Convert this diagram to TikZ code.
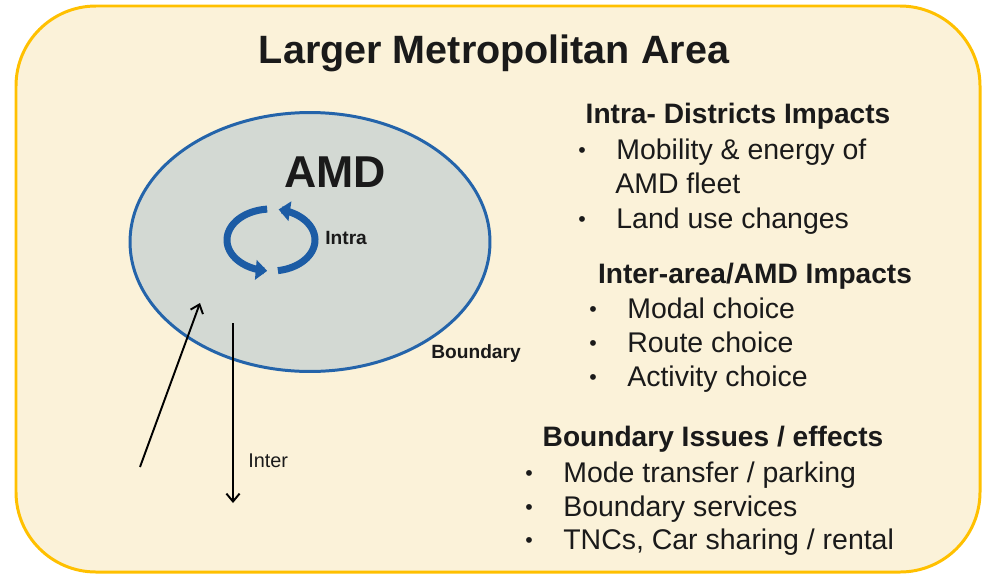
\documentclass[tikz,border=0pt]{standalone}
\usepackage{fontspec}
\setmainfont{Liberation Sans}
\usepackage{tikz}
\usetikzlibrary{arrows.meta,positioning,shapes.geometric}

\definecolor{areafill}{RGB}{251,242,217}
\definecolor{areadraw}{RGB}{255,192,0}
\definecolor{amdfill}{RGB}{211,217,211}
\definecolor{amdblue}{RGB}{36,100,170}
\definecolor{cycblue}{RGB}{28,92,165}
\definecolor{txt}{RGB}{26,26,26}

\begin{document}
\begin{tikzpicture}[x=0.02cm, y=-0.02cm, >=Latex, text=txt]
        \tikzset{heading/.style={anchor=base, inner sep=0, font=\fontsize{16}{19}\selectfont\bfseries},
                 item/.style={anchor=base west, inner sep=0, font=\fontsize{16.2}{19}\selectfont},
                 tag/.style={anchor=base west, inner sep=0, font=\fontsize{10.9}{13}\selectfont\bfseries},
                 cyc/.style={cycblue, line width=4pt, -{Triangle[width=11pt,length=6.5pt]}},
                 flow/.style={line width=1.1pt, -{Straight Barb[length=4.5pt,width=7.5pt]}}}
        \newcommand{\bul}{\makebox[0.76cm][l]{\raisebox{0.05em}{\scalebox{0.75}{\textbullet}}}}
        \useasboundingbox (0,0) rectangle (986,575);

        % metropolitan area and AMD
        \draw[areadraw, fill=areafill, line width=1.7pt, rounded corners=1.6cm] (16,6) rectangle (980,572);
        \node[font=\fontsize{22.5}{27}\selectfont\bfseries, anchor=base, inner sep=0] (title) at (494,63) {Larger Metropolitan Area};
        \node[ellipse, draw=amdblue, fill=amdfill, line width=1.7pt, minimum width=7.2cm, minimum height=5.18cm, inner sep=0] (amd) at (310,242) {};
        \node[font=\fontsize{25.4}{30}\selectfont\bfseries, anchor=base west, inner sep=0] (amdlabel) at (284,187) {AMD};

        % intra cycle
        \draw[cyc] plot[domain=265:95, samples=40] ({271+44*cos(\x)},{240+31*sin(\x)});
        \draw[cyc] plot[domain=81:-80, samples=40] ({271+44*cos(\x)},{240+31*sin(\x)});
        \node[tag] (intra) at (325,244) {Intra};
        \node[tag] (boundary) at (431,358) {Boundary};

        % inter flows
        \coordinate (inA) at (140,467);
        \coordinate (inB) at (200,303);
        \coordinate (outA) at (233,323);
        \coordinate (outB) at (233,503);
        \draw[flow] (inA) -- (inB);
        \draw[flow] (outA) -- (outB);
        \node[anchor=base west, inner sep=0, font=\fontsize{11.3}{13}\selectfont] (inter) at (248,467) {Inter};

        % impacts
        \node[heading] (h1) at (738,123) {Intra- Districts Impacts};
        \node[item] (i11) at (578,159) {\bul Mobility \& energy of};
        \node[item] (i12) at (615,193) {AMD fleet};
        \node[item] (i13) at (578,228) {\bul Land use changes};

        \node[heading] (h2) at (755,283) {Inter-area/AMD Impacts};
        \node[item] (i21) at (589,318) {\bul Modal choice};
        \node[item] (i22) at (589,352) {\bul Route choice};
        \node[item] (i23) at (589,386) {\bul Activity choice};

        \node[heading] (h3) at (713,446) {Boundary Issues / effects};
        \node[item] (i31) at (525,482) {\bul Mode transfer / parking};
        \node[item] (i32) at (525,516) {\bul Boundary services};
        \node[item] (i33) at (525,549) {\bul TNCs, Car sharing / rental};
    \end{tikzpicture}
\end{document}
